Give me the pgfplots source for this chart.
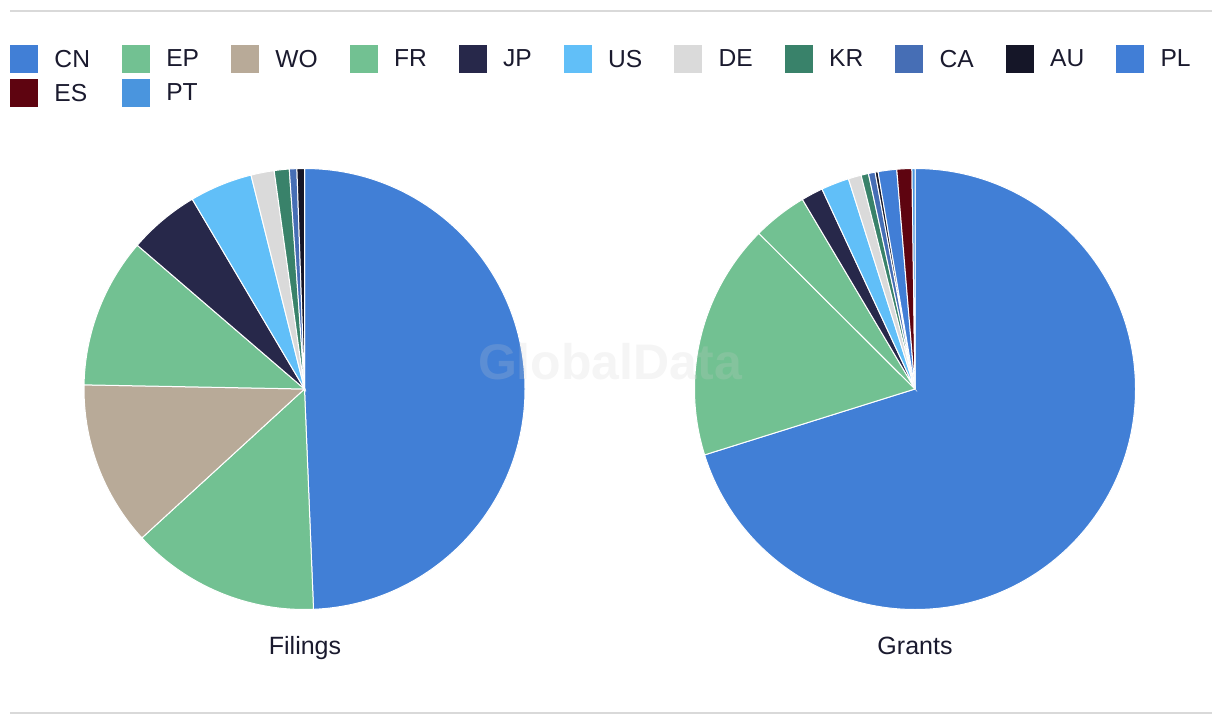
\documentclass[border=0pt]{standalone}
\usepackage{pgfplots}
\usepackage{pgfplotstable}
\usepackage{fontspec}
\setmainfont{Liberation Sans}
\pgfplotsset{compat=1.18}

\definecolor{cn}{HTML}{417FD6}
\definecolor{ep}{HTML}{72C192}
\definecolor{wo}{HTML}{B8AA98}
\definecolor{fr}{HTML}{72C192}
\definecolor{jp}{HTML}{27284A}
\definecolor{us}{HTML}{61BFF8}
\definecolor{de}{HTML}{DADADA}
\definecolor{kr}{HTML}{39826A}
\definecolor{ca}{HTML}{466EB5}
\definecolor{au}{HTML}{151628}
\definecolor{pl}{HTML}{417ED6}
\definecolor{es}{HTML}{5E0410}
\definecolor{pt}{HTML}{4A95DE}
\definecolor{txt}{HTML}{1A1A2E}
\definecolor{rule}{HTML}{D9D9D9}

% share of each office, percent
\pgfplotstableread{
country value col
CN 49.35 cn
EP 13.85 ep
WO 12.10 wo
FR 11.00 fr
JP 5.20 jp
US 4.60 us
DE 1.70 de
KR 1.10 kr
CA 0.55 ca
AU 0.55 au
}\filings

\pgfplotstableread{
country value col
CN 70.17 cn
EP 17.30 ep
FR 4.00 fr
JP 1.60 jp
US 2.05 us
DE 0.95 de
KR 0.54 kr
CA 0.49 ca
AU 0.22 au
PL 1.36 pl
ES 1.10 es
PT 0.22 pt
}\grants

% #1 table, #2,#3 centre in axis units; radius 220.5 units = 110.25pt
\newcommand\pie[3]{%
  \pgfplotstablegetrowsof{#1}%
  \pgfmathtruncatemacro\nrows{\pgfplotsretval-1}%
  \def\cum{0}%
  \pgfplotsforeachungrouped \i in {0,...,\nrows}{%
    \pgfplotstablegetelem{\i}{value}\of{#1}\let\slval\pgfplotsretval
    \pgfplotstablegetelem{\i}{col}\of{#1}\let\slcol\pgfplotsretval
    \pgfmathsetmacro\sla{90-3.6*\cum}%
    \pgfmathsetmacro\slb{90-3.6*(\cum+\slval)}%
    \edef\slice{\noexpand\addplot[forget plot, fill=\slcol, draw=white, line width=0.5pt]
      coordinates {(#2,#3)} -- ++(\sla:110.25pt)
      arc[start angle=\sla, end angle=\slb, radius=110.25pt] -- cycle;}%
    \slice
    \pgfmathsetmacro\cum{\cum+\slval}%
  }%
}

\begin{document}
\begin{tikzpicture}
\begin{axis}[
  scale only axis, width=610pt, height=362pt,
  xmin=0, xmax=1220, ymin=0, ymax=724,
  hide axis, clip=false,
  legend columns=11,
  legend cell align=left,
  legend image code/.code={\fill[#1, draw=none] (0pt,-6.5pt) rectangle (14pt,7.5pt);},
  legend style={at={(axis cs:10,679)}, anchor=north west,
    draw=none, fill=none, inner sep=0pt, outer sep=0pt, row sep=3pt,
    nodes={inner sep=0pt, outer sep=0pt, text=txt,
      font=\fontsize{12.3}{14}\selectfont},
    /tikz/every odd column/.append style={column sep=8.25pt},
    /tikz/every even column/.append style={column sep=15.9pt}},
]
\pie{\filings}{304.5}{335}
\pie{\grants}{915}{335}

\addlegendimage{fill=cn}\addlegendentry{CN}
\addlegendimage{fill=ep}\addlegendentry{EP}
\addlegendimage{fill=wo}\addlegendentry{WO}
\addlegendimage{fill=fr}\addlegendentry{FR}
\addlegendimage{fill=jp}\addlegendentry{JP}
\addlegendimage{fill=us}\addlegendentry{US}
\addlegendimage{fill=de}\addlegendentry{DE}
\addlegendimage{fill=kr}\addlegendentry{KR}
\addlegendimage{fill=ca}\addlegendentry{CA}
\addlegendimage{fill=au}\addlegendentry{AU}
\addlegendimage{fill=pl}\addlegendentry{PL}
\addlegendimage{fill=es}\addlegendentry{ES}
\addlegendimage{fill=pt}\addlegendentry{PT}

\draw[rule, line width=1pt] (axis cs:10,713) -- (axis cs:1212,713);
\draw[rule, line width=1pt] (axis cs:10,11) -- (axis cs:1212,11);

\node[font=\bfseries\fontsize{25}{25}\selectfont, text=black!20, text opacity=0.2]
  at (axis cs:610,362) {GlobalData};

\node[anchor=base, text=txt, font=\fontsize{12.5}{14}\selectfont]
  at (axis cs:305,70) {Filings};
\node[anchor=base, text=txt, font=\fontsize{12.5}{14}\selectfont]
  at (axis cs:915,70) {Grants};
\end{axis}
\pgfresetboundingbox
\path (current axis.south west) rectangle (current axis.north east);
\end{tikzpicture}
\end{document}
